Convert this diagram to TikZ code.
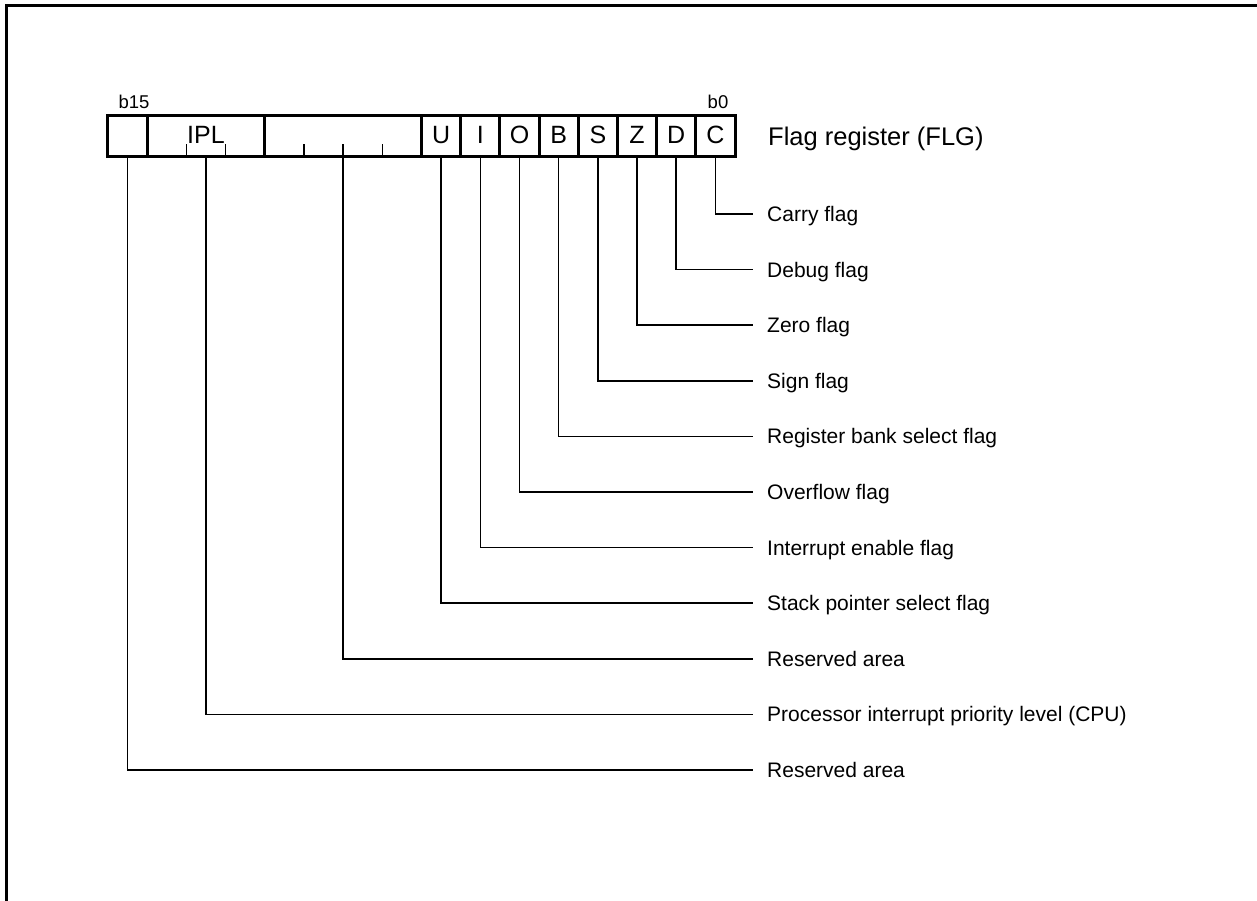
\documentclass[tikz,border=0pt]{standalone}
\usepackage{fontspec}
\setmainfont{Liberation Sans}
\begin{document}
\begin{tikzpicture}[x=1pt,y=-1pt,
  cell/.style={draw, line width=3pt, minimum height=41pt, inner sep=0pt, text height=18pt, text depth=4pt, font=\fontsize{25}{30}\selectfont},
  lead/.style={line width=1.5pt},
  tick/.style={line width=1.5pt},
  lbl/.style={anchor=west, inner xsep=14pt, inner ysep=0pt, text height=15pt, text depth=0pt, font=\fontsize{21}{25}\selectfont},
  bitlbl/.style={inner sep=0pt, text height=13.3pt, text depth=0pt, font=\fontsize{18.5}{22}\selectfont},
  title/.style={anchor=west, inner sep=0pt, text height=18.3pt, text depth=0pt, font=\fontsize{25.5}{30}\selectfont},
]
\useasboundingbox (0,0) rectangle (1257,901);
% frame
\draw[line width=3pt] (6,901) -- (6,6) -- (1257,6);

% register cells
\node[cell, minimum width=39.19pt]  (r15) at (127.59,136.5) {};
\node[cell, minimum width=117.56pt] (ipl) at (205.97,136.5) {IPL};
\node[cell, minimum width=156.75pt] (rsv) at (343.13,136.5) {};
\node[cell, minimum width=39.19pt]  (U) at (441.09,136.5) {U};
\node[cell, minimum width=39.19pt]  (I) at (480.28,136.5) {I};
\node[cell, minimum width=39.19pt]  (O) at (519.47,136.5) {O};
\node[cell, minimum width=39.19pt]  (B) at (558.66,136.5) {B};
\node[cell, minimum width=39.19pt]  (S) at (597.84,136.5) {S};
\node[cell, minimum width=39.19pt]  (Z) at (637.03,136.5) {Z};
\node[cell, minimum width=39.19pt]  (D) at (676.22,136.5) {D};
\node[cell, minimum width=39.19pt]  (C) at (715.41,136.5) {C};

% ticks
\foreach \tx in {186.38,225.56,303.94,343.13,382.31}
  \draw[tick] (\tx,157) -- (\tx,144);

% bit labels and title
\node[bitlbl] (b15) at (134,101.5) {b15};
\node[bitlbl] (b0) at (718,101.5) {b0};
\node[title] (ttl) at (768,136) {Flag register (FLG)};

% labels
\node[lbl] (l0)  at (753,214)   {Carry flag};
\node[lbl] (l1)  at (753,269.6) {Debug flag};
\node[lbl] (l2)  at (753,325.2) {Zero flag};
\node[lbl] (l3)  at (753,380.8) {Sign flag};
\node[lbl] (l4)  at (753,436.4) {Register bank select flag};
\node[lbl] (l5)  at (753,492)   {Overflow flag};
\node[lbl] (l6)  at (753,547.6) {Interrupt enable flag};
\node[lbl] (l7)  at (753,603.2) {Stack pointer select flag};
\node[lbl] (l8)  at (753,658.8) {Reserved area};
\node[lbl] (l9)  at (753,714.4) {Processor interrupt priority level (CPU)};
\node[lbl] (l10) at (753,770)   {Reserved area};

% leaders
\draw[lead] (C.south)   |- (l0.west);
\draw[lead] (D.south)   |- (l1.west);
\draw[lead] (Z.south)   |- (l2.west);
\draw[lead] (S.south)   |- (l3.west);
\draw[lead] (B.south)   |- (l4.west);
\draw[lead] (O.south)   |- (l5.west);
\draw[lead] (I.south)   |- (l6.west);
\draw[lead] (U.south)   |- (l7.west);
\draw[lead] (rsv.south) |- (l8.west);
\draw[lead] (ipl.south) |- (l9.west);
\draw[lead] (r15.south) |- (l10.west);
\end{tikzpicture}
\end{document}
